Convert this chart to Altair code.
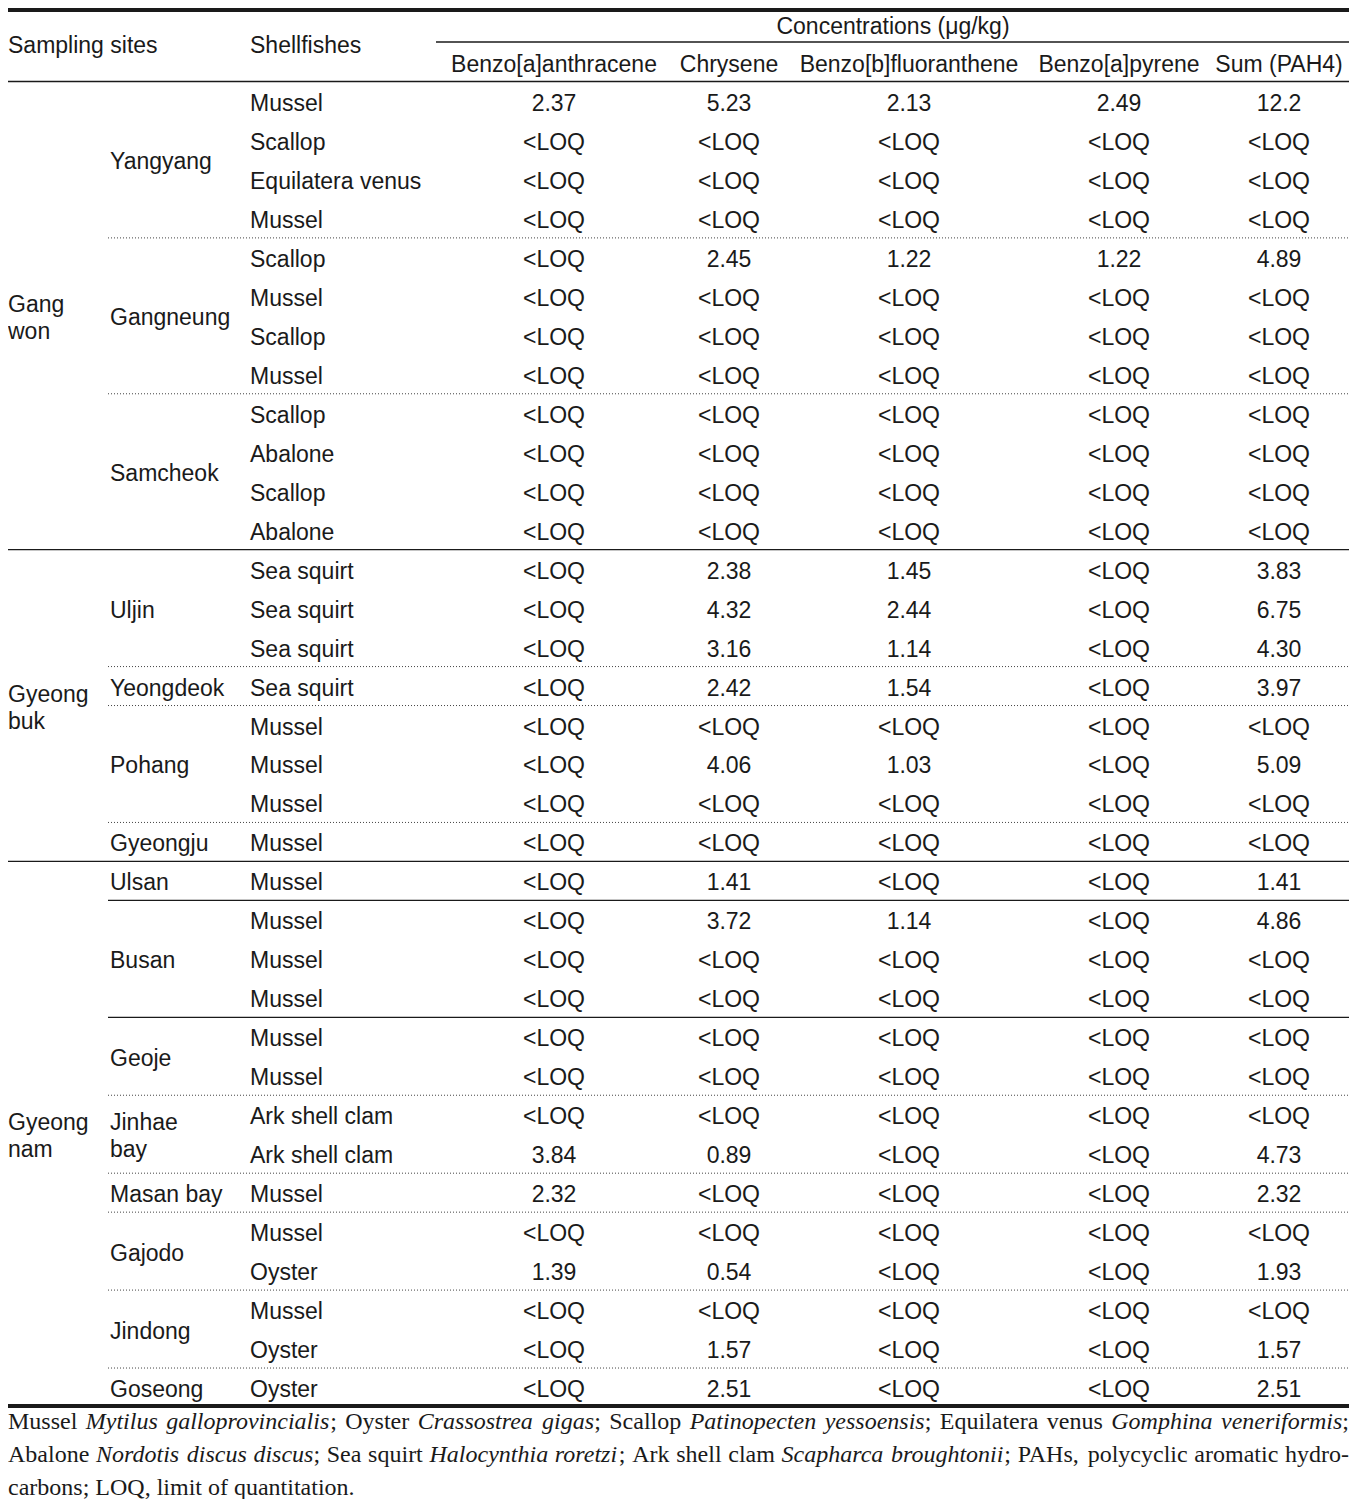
import altair as alt
import pandas as pd

# ---------------- data ----------------
L = "<LOQ"
regions = ["Gang\nwon", "Gyeong\nbuk", "Gyeong\nnam"]
region_nrows = [12, 8, 14]
sites = ["Yangyang", "Gangneung", "Samcheok", "Uljin", "Yeongdeok", "Pohang",
         "Gyeongju", "Ulsan", "Busan", "Geoje", "Jinhae\nbay", "Masan bay",
         "Gajodo", "Jindong", "Goseong"]
site_nrows = [4, 4, 4, 3, 1, 3, 1, 1, 3, 2, 2, 1, 2, 2, 1]
shellfishes = ["Mussel", "Scallop", "Equilatera venus", "Mussel",
               "Scallop", "Mussel", "Scallop", "Mussel",
               "Scallop", "Abalone", "Scallop", "Abalone",
               "Sea squirt", "Sea squirt", "Sea squirt", "Sea squirt",
               "Mussel", "Mussel", "Mussel", "Mussel",
               "Mussel", "Mussel", "Mussel", "Mussel", "Mussel", "Mussel",
               "Ark shell clam", "Ark shell clam", "Mussel", "Mussel", "Oyster",
               "Mussel", "Oyster", "Oyster"]
column_names = ["Benzo[a]anthracene", "Chrysene", "Benzo[b]fluoranthene",
                "Benzo[a]pyrene", "Sum (PAH4)"]
benzo_a_anthracene = ["2.37", L, L, L, L, L, L, L, L, L, L, L,
                      L, L, L, L, L, L, L, L,
                      L, L, L, L, L, L, L, "3.84", "2.32", L, "1.39", L, L, L]
chrysene = ["5.23", L, L, L, "2.45", L, L, L, L, L, L, L,
            "2.38", "4.32", "3.16", "2.42", L, "4.06", L, L,
            "1.41", "3.72", L, L, L, L, L, "0.89", L, L, "0.54", L, "1.57", "2.51"]
benzo_b_fluoranthene = ["2.13", L, L, L, "1.22", L, L, L, L, L, L, L,
                        "1.45", "2.44", "1.14", "1.54", L, "1.03", L, L,
                        L, "1.14", L, L, L, L, L, L, L, L, L, L, L, L]
benzo_a_pyrene = ["2.49", L, L, L, "1.22", L, L, L, L, L, L, L,
                  L, L, L, L, L, L, L, L,
                  L, L, L, L, L, L, L, L, L, L, L, L, L, L]
sum_pah4 = ["12.2", L, L, L, "4.89", L, L, L, L, L, L, L,
            "3.83", "6.75", "4.30", "3.97", L, "5.09", L, L,
            "1.41", "4.86", L, L, L, L, L, "4.73", "2.32", L, "1.93", L, "1.57", "2.51"]
header_group = "Concentrations (\u03bcg/kg)"
header_sites = "Sampling sites"
header_shell = "Shellfishes"

# footnote: words, each a list of (text, italic) pieces
foot_line1 = [[("Mussel", False)], [("Mytilus", True)],
              [("galloprovincialis", True), (";", False)], [("Oyster", False)],
              [("Crassostrea", True)], [("gigas", True), (";", False)],
              [("Scallop", False)], [("Patinopecten", True)],
              [("yessoensis", True), (";", False)], [("Equilatera", False)],
              [("venus", False)], [("Gomphina", True)],
              [("veneriformis", True), (";", False)]]
foot_line2 = [[("Abalone", False)], [("Nordotis", True)], [("discus", True)],
              [("discus", True), (";", False)], [("Sea", False)], [("squirt", False)],
              [("Halocynthia", True)], [("roretzi", True), (";", False)],
              [("Ark", False)], [("shell", False)], [("clam", False)],
              [("Scapharca", True)], [("broughtonii", True), (";", False)],
              [("PAHs,", False)], [("polycyclic", False)], [("aromatic", False)],
              [("hydro-", False)]]
foot_line3 = "carbons; LOQ, limit of quantitation."

# ---------------- layout ----------------
ROW0 = 103.0
ROW_H = 38.97
def r_of(py):
    return (py - ROW0) / ROW_H

W, H = 1342, 1491
X_LEFT, X_RIGHT = 8, 1349
X_SITE, X_SHELL = 110, 250
X_SUB_RULE = 108
X_GROUP_RULE = 436
COL_X = [554, 729, 909, 1119, 1279]
X_GROUP = 893
LINE_H = 27
RULE_SHIFT = -1.5 / ROW_H
FOOT_FS = 24
foot_y = [1422, 1455, 1488]

# Times (Liberation Serif) advance widths, 1/1000 em
ROMAN_W = dict(zip("AELMOPQSHabcdefghiklmnopqrstuvyz,.;- ",
                   [722, 611, 611, 889, 722, 556, 722, 556, 722, 444, 500, 444, 500, 444,
                    333, 500, 500, 278, 500, 278, 778, 500, 500, 500, 500, 333, 389, 278,
                    500, 500, 500, 444, 250, 250, 278, 333, 250]))
ITALIC_W = dict(zip("CGHMNPSabcdefghilmnoprstuvyz ",
                    [667, 722, 722, 833, 667, 611, 500, 500, 500, 444, 500, 444, 278, 500,
                     500, 278, 278, 722, 500, 500, 500, 389, 389, 278, 500, 444, 444, 389,
                     250]))

def piece_w(t, it):
    tab = ITALIC_W if it else ROMAN_W
    return sum(tab.get(ch, 500) for ch in t) * FOOT_FS / 1000.0

def justify(words, y):
    ws = [sum(piece_w(t, it) for t, it in w) for w in words]
    gap = (X_RIGHT - X_LEFT - sum(ws)) / (len(words) - 1)
    out, x = [], X_LEFT
    for w, wd in zip(words, ws):
        px = x
        for t, it in w:
            out.append({"x": px, "r": r_of(y), "t": t, "it": it})
            px += piece_w(t, it)
        x += wd + gap
    return out

foot_rows = justify(foot_line1, foot_y[0]) + justify(foot_line2, foot_y[1])
foot_rows.append({"x": X_LEFT, "r": r_of(foot_y[2]), "t": foot_line3, "it": False})
foot_df = pd.DataFrame(foot_rows)

values = [benzo_a_anthracene, chrysene, benzo_b_fluoranthene, benzo_a_pyrene, sum_pah4]

def label_r(center, name):
    return center - (name.count("\n")) * LINE_H / 2 / ROW_H

left_rows, center_rows = [], []
for i, s in enumerate(shellfishes):
    left_rows.append({"x": X_SHELL, "r": i, "t": s})
    for c, col in enumerate(values):
        center_rows.append({"x": COL_X[c], "r": i, "t": col[i]})
start = 0
for name, k in zip(regions, region_nrows):
    left_rows.append({"x": X_LEFT, "r": label_r(start + (k - 1) / 2, name), "t": name})
    start += k
start = 0
for name, k in zip(sites, site_nrows):
    left_rows.append({"x": X_SITE, "r": label_r(start + (k - 1) / 2, name), "t": name})
    start += k
left_rows.append({"x": X_LEFT, "r": r_of(45), "t": header_sites})
left_rows.append({"x": X_SHELL, "r": r_of(45), "t": header_shell})
for c, nm in enumerate(column_names):
    center_rows.append({"x": COL_X[c], "r": r_of(64), "t": nm})
center_rows.append({"x": X_GROUP, "r": r_of(26), "t": header_group})

# rules
thin_rules = [
    {"x": X_GROUP_RULE, "x2": X_RIGHT, "r": r_of(42)},
    {"x": X_LEFT, "x2": X_RIGHT, "r": r_of(81.5)},
]
for b in [11.5, 19.5]:
    thin_rules.append({"x": X_LEFT, "x2": X_RIGHT, "r": b + RULE_SHIFT})
for b in [20.5, 23.5]:
    thin_rules.append({"x": X_SUB_RULE, "x2": X_RIGHT, "r": b + RULE_SHIFT})
dotted_rules = [{"x": X_SUB_RULE, "x2": X_RIGHT, "r": b + RULE_SHIFT}
                for b in [3.5, 7.5, 14.5, 15.5, 18.5, 25.5, 27.5, 28.5, 30.5, 32.5]]
thick_rules = [{"x": X_LEFT, "x2": X_RIGHT, "r": r_of(10)},
               {"x": X_LEFT, "x2": X_RIGHT, "r": r_of(1406)}]

# ---------------- chart ----------------
xs = alt.Scale(domain=[8, 8 + W], nice=False, zero=False)
ys = alt.Scale(domain=[r_of(8), r_of(8 + H)], reverse=True, nice=False, zero=False)
X = alt.X("x:Q", scale=xs, axis=None)
Y = alt.Y("r:Q", scale=ys, axis=None)

SANS = "Liberation Sans"
SERIF = "Liberation Serif"
INK = "#1a1a1a"
FS = 23

def rules(data, width, dash=None):
    kw = dict(color=INK, strokeWidth=width)
    if dash:
        kw["strokeDash"] = dash
        kw["color"] = "#444444"
    return alt.Chart(pd.DataFrame(data)).mark_rule(**kw).encode(x=X, x2="x2:Q", y=Y)

left_text = alt.Chart(pd.DataFrame(left_rows)).mark_text(
    align="left", baseline="middle", font=SANS, fontSize=FS, color=INK, dy=1,
    lineBreak="\n", lineHeight=LINE_H).encode(x=X, y=Y, text="t:N")
center_text = alt.Chart(pd.DataFrame(center_rows)).mark_text(
    align="center", baseline="middle", font=SANS, fontSize=FS, color=INK, dy=1).encode(
    x=X, y=Y, text="t:N")
foot_roman = alt.Chart(foot_df[~foot_df["it"]]).mark_text(
    align="left", baseline="middle", font=SERIF, fontSize=FOOT_FS, color=INK).encode(
    x=X, y=Y, text="t:N")
foot_italic = alt.Chart(foot_df[foot_df["it"]]).mark_text(
    align="left", baseline="middle", font=SERIF, fontSize=FOOT_FS, fontStyle="italic",
    color=INK).encode(x=X, y=Y, text="t:N")

chart = alt.layer(
    rules(thick_rules, 4),
    rules(thin_rules, 1.3),
    rules(dotted_rules, 1, dash=[1, 2]),
    left_text, center_text, foot_roman, foot_italic,
).properties(
    width=W, height=H, padding=0,
    autosize=alt.AutoSizeParams(type="none"),
).configure_view(stroke=None)

chart.save("out.html", embed_options={"renderer": "svg", "actions": False})
